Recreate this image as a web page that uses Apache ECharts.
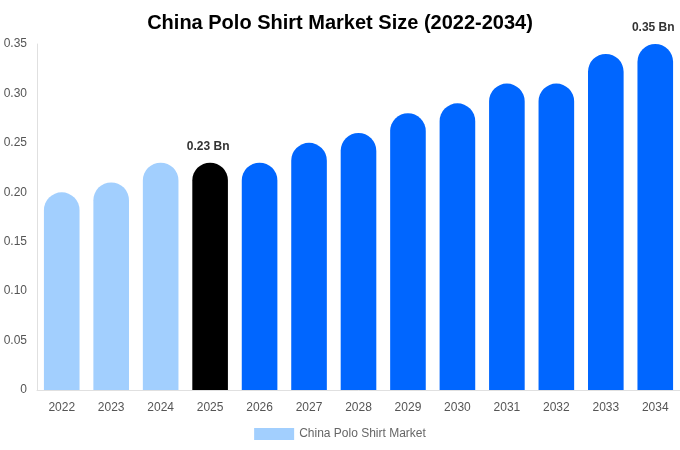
<!DOCTYPE html>
<html><head><meta charset="utf-8">
<script src="https://cdn.jsdelivr.net/npm/echarts@6/dist/echarts.min.js"></script>
<style>html,body{margin:0;padding:0;background:#fff}#c{width:680px;height:450px}</style>
</head><body><div id="c"></div>
<script>
const years = ['2022','2023','2024','2025','2026','2027','2028','2029','2030','2031','2032','2033','2034'];
const values = [0.20,0.21,0.23,0.23,0.23,0.25,0.26,0.28,0.29,0.31,0.31,0.34,0.35];
const colors = ['#a2cffe','#a2cffe','#a2cffe','#000000','#0066ff','#0066ff','#0066ff','#0066ff','#0066ff','#0066ff','#0066ff','#0066ff','#0066ff'];
const labelled = {'2025':'0.23 Bn','2034':'0.35 Bn'};
const yTicks = {min:0,max:0.35,interval:0.05};

const chart = echarts.init(document.getElementById('c'));
chart.setOption({
  animation:false,
  textStyle:{fontFamily:'Liberation Sans, Arial, sans-serif'},
  title:{text:'China Polo Shirt Market Size (2022-2034)',left:'center',top:8,
    textStyle:{fontSize:20,fontWeight:'bold',color:'#000',fontFamily:'Liberation Sans, Arial, sans-serif'}},
  legend:{bottom:5,left:'center',itemWidth:40,itemHeight:12,itemGap:6,icon:'rect',
    data:[{name:'China Polo Shirt Market',itemStyle:{color:'#a2cffe'}}],
    textStyle:{color:'#666',fontSize:12}},
  grid:{left:37,right:0,top:44,bottom:60,containLabel:false},
  xAxis:{type:'category',data:years,
    axisLine:{lineStyle:{color:'#e0e0e0'}},axisTick:{show:false},
    axisLabel:{color:'#555',fontSize:12,margin:12}},
  yAxis:{type:'value',min:yTicks.min,max:yTicks.max,interval:yTicks.interval,
    axisLine:{show:true,lineStyle:{color:'#e0e0e0'}},axisTick:{show:false},splitLine:{show:false},
    axisLabel:{color:'#555',fontSize:12,margin:10,formatter:v=>v===0?'0':v.toFixed(2)}},
  series:[{name:'China Polo Shirt Market',type:'bar',barWidth:'72%',
    data:values.map((v,i)=>({value:v,itemStyle:{color:colors[i]},
      label:{show:!!labelled[years[i]],formatter:labelled[years[i]]||'',position:'top',distance:10,offset:[-2,0],
        color:'#333',fontWeight:'bold',fontSize:12}})),
    itemStyle:{borderRadius:[18,18,0,0]}}]
});
</script></body></html>
